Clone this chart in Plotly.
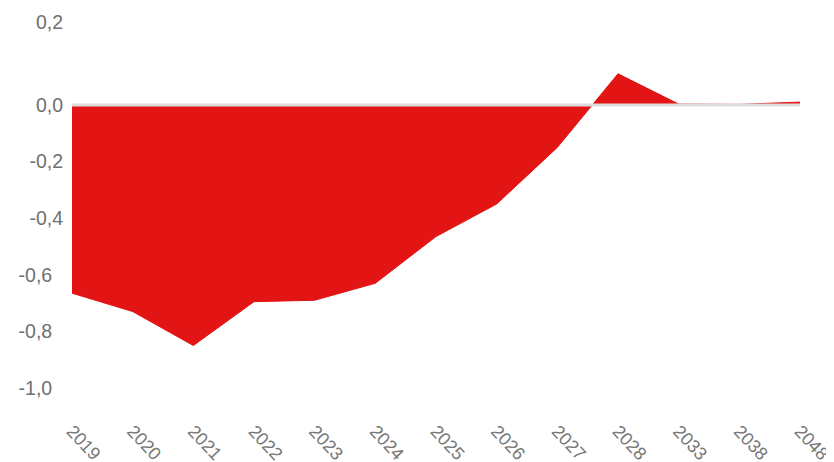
import plotly.graph_objects as go

years = ["2019", "2020", "2021", "2022", "2023", "2024", "2025", "2026", "2027", "2028", "2033", "2038", "2048"]
values = [-0.665, -0.73, -0.85, -0.695, -0.69, -0.63, -0.465, -0.35, -0.15, 0.11, 0.003, 0.002, 0.01]
y_tick_values = [-1.0, -0.8, -0.6, -0.4, -0.2, 0.0]
y_tick_labels = ["-1,0", "-0,8", "-0,6", "-0,4", "-0,2", "0,0"]
top_label = "0,2"

# the lower three labels sit a little further left in the reference
pad = "\u00a0\u00a0"
shown_labels = [t + pad if v <= -0.6 else t for v, t in zip(y_tick_values, y_tick_labels)]

fig = go.Figure()
fig.add_trace(go.Scatter(
    x=years, y=values, mode="lines", fill="tozeroy",
    line=dict(color="#E31414", width=1), fillcolor="#E31414",
    hoverinfo="skip", showlegend=False,
))

fig.add_shape(type="line", xref="paper", yref="y", x0=0, x1=1, y0=0, y1=0,
              line=dict(color="#DDDDDD", width=3), layer="above")

# page body has an 8px default margin, so the figure is 8px smaller
fig.update_layout(
    width=826, height=454,
    margin=dict(l=64, r=34, t=12, b=74),
    plot_bgcolor="white", paper_bgcolor="white",
    separators=",.",
    font=dict(family="Liberation Sans, Arial, sans-serif", color="#707070"),
    xaxis=dict(type="category", range=[0, len(years) - 1], showgrid=False,
               zeroline=False, showline=False, ticks="", tickangle=47,
               automargin=False, ticklabelstandoff=28,
               tickfont=dict(size=18, color="#777777")),
    yaxis=dict(range=[-1.0, 0.3], showgrid=False, zeroline=False, showline=False,
               tickvals=y_tick_values + [0.293], ticktext=shown_labels + [top_label],
               automargin=False, ticklabelstandoff=8,
               ticks="", ticklen=0, tickfont=dict(size=19.5, color="#707070")),
)

fig.write_html("out.html")
